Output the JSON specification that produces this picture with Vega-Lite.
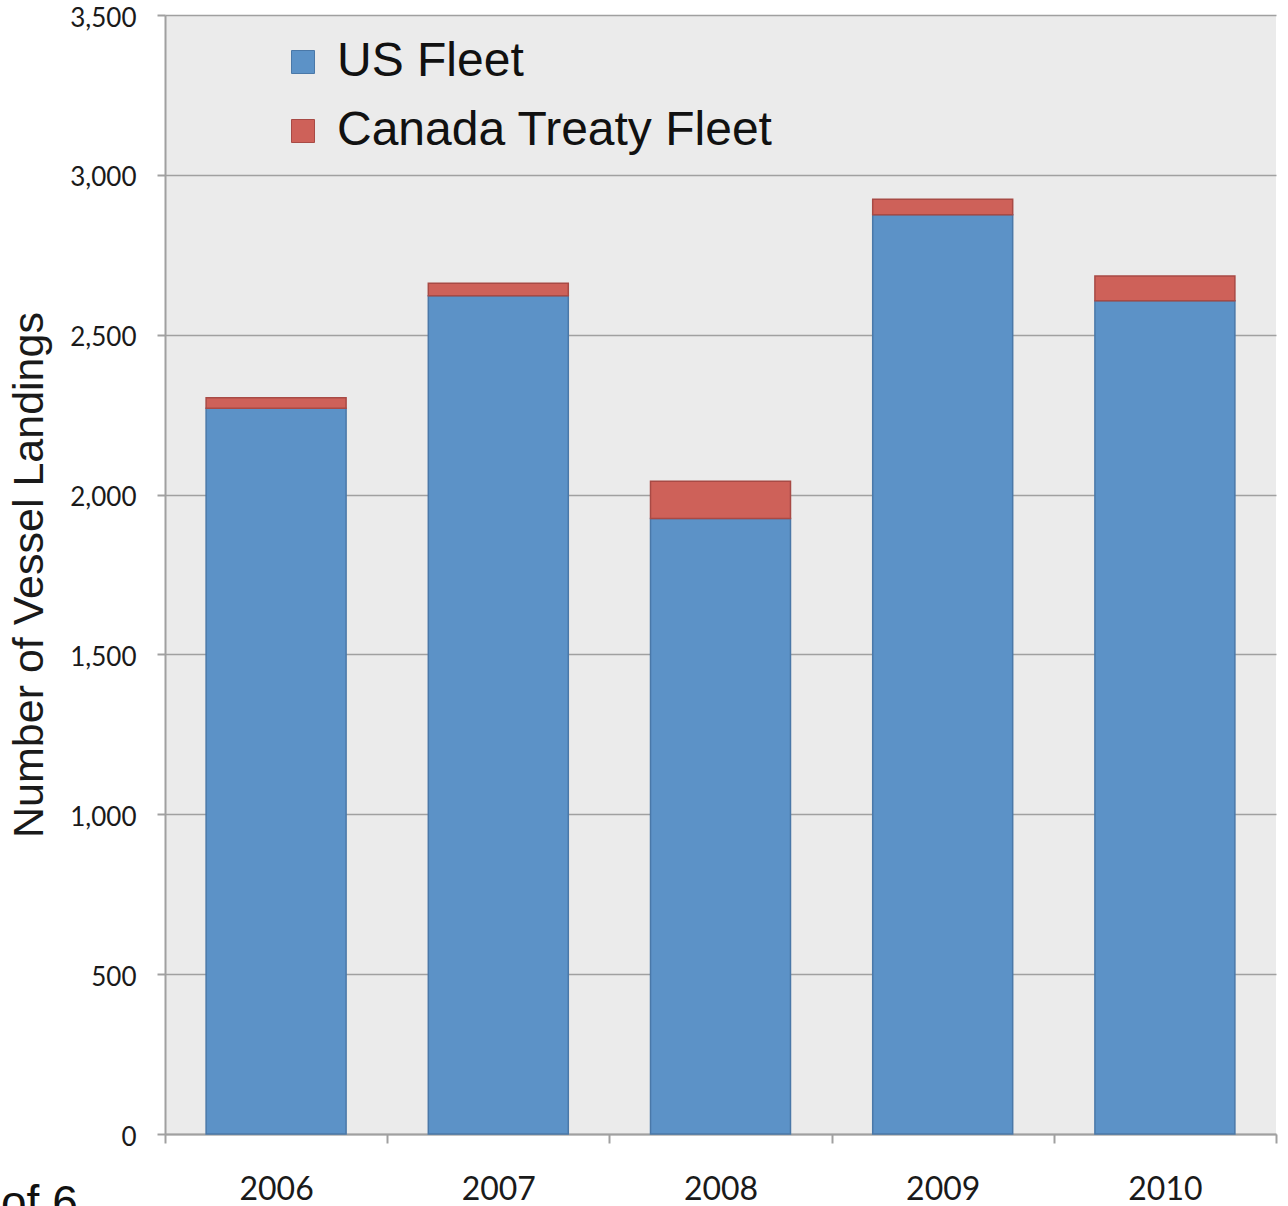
{
  "$schema": "https://vega.github.io/schema/vega-lite/v6.json",
  "width": 1111,
  "height": 1119,
  "autosize": {"type": "none"},
  "padding": {"left": 165, "top": 15, "right": 12, "bottom": 72},
  "background": "white",
  "config": {
    "view": {"fill": "#ebebeb", "stroke": null},
    "axis": {"labelColor": "#1a1a1a", "titleColor": "#1a1a1a"}
  },
  "title": {
    "text": "of 6",
    "orient": "bottom",
    "anchor": "start",
    "frame": "group",
    "font": "Liberation Sans",
    "fontSize": 46,
    "fontWeight": "normal",
    "color": "#111111",
    "dx": -164,
    "offset": -23
  },
  "data": {
    "values": [
      {"year": "2006", "fleet": "US Fleet", "value": 2270, "ord": 0},
      {"year": "2006", "fleet": "Canada Treaty Fleet", "value": 33, "ord": 1},
      {"year": "2007", "fleet": "US Fleet", "value": 2622, "ord": 0},
      {"year": "2007", "fleet": "Canada Treaty Fleet", "value": 39, "ord": 1},
      {"year": "2008", "fleet": "US Fleet", "value": 1925, "ord": 0},
      {"year": "2008", "fleet": "Canada Treaty Fleet", "value": 117, "ord": 1},
      {"year": "2009", "fleet": "US Fleet", "value": 2875, "ord": 0},
      {"year": "2009", "fleet": "Canada Treaty Fleet", "value": 49, "ord": 1},
      {"year": "2010", "fleet": "US Fleet", "value": 2606, "ord": 0},
      {"year": "2010", "fleet": "Canada Treaty Fleet", "value": 78, "ord": 1}
    ]
  },
  "mark": {"type": "bar", "strokeWidth": 1.5, "width": {"band": 0.63}},
  "encoding": {
    "x": {
      "field": "year",
      "type": "nominal",
      "scale": {"paddingInner": 0, "paddingOuter": 0},
      "axis": {
        "title": null,
        "labelAngle": 0,
        "tickBand": "extent",
        "labelFont": "Lato",
        "labelFontSize": 32,
        "labelPadding": 31,
        "tickSize": 9,
        "tickColor": "#a0a0a0",
        "tickWidth": 2,
        "domainColor": "#a0a0a0",
        "domainWidth": 2,
        "grid": false
      }
    },
    "y": {
      "field": "value",
      "type": "quantitative",
      "stack": "zero",
      "scale": {"domain": [0, 3500], "nice": false},
      "axis": {
        "values": [0, 500, 1000, 1500, 2000, 2500, 3000, 3500],
        "format": ",.0f",
        "title": "Number of Vessel Landings",
        "titleFont": "Liberation Sans",
        "titleFontSize": 43,
        "titleFontWeight": "normal",
        "titlePadding": 18,
        "labelFont": "Lato",
        "labelFontSize": 26,
        "labelPadding": 21,
        "labelOffset": 3,
        "tickSize": 8,
        "tickColor": "#a0a0a0",
        "tickWidth": 2,
        "domainColor": "#a0a0a0",
        "domainWidth": 2,
        "grid": true,
        "gridColor": "#a0a0a0",
        "gridWidth": 1.5
      }
    },
    "order": {"field": "ord", "type": "quantitative"},
    "color": {
      "field": "fleet",
      "type": "nominal",
      "scale": {"domain": ["US Fleet", "Canada Treaty Fleet"], "range": ["#5c92c7", "#ce6159"]},
      "legend": {
        "title": null,
        "orient": "none",
        "legendX": 114,
        "legendY": 23,
        "symbolType": "square",
        "symbolSize": 529,
        "symbolStrokeWidth": 1,
        "labelFont": "Liberation Sans",
        "labelFontSize": 48,
        "labelColor": "#111111",
        "labelOffset": 10,
        "labelLimit": 800,
        "rowPadding": 21,
        "fillColor": null
      }
    },
    "stroke": {
      "field": "fleet",
      "type": "nominal",
      "scale": {"domain": ["US Fleet", "Canada Treaty Fleet"], "range": ["#4a78a8", "#a84a45"]},
      "legend": null
    }
  }
}
